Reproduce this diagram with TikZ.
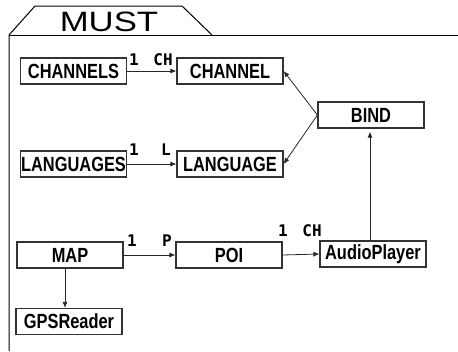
\documentclass[tikz,border=0pt]{standalone}
\usepackage{fontspec}
\setmainfont{Liberation Sans}
\newfontfamily\boxfont[FakeStretch=0.8]{Liberation Sans}
\newfontfamily\labfont{DejaVu Sans Mono}
\usetikzlibrary{arrows.meta}
\begin{document}
\begin{tikzpicture}[x=1pt,y=-1pt,
  box/.style={draw=black!80,line width=1.2pt,minimum width=106pt,minimum height=26pt,inner sep=0pt,font=\boxfont\bfseries\fontsize{20.5}{23}\selectfont},
  arr/.style={draw=black!85,line width=0.8pt,-{Latex[length=6pt,width=5pt]}},
  lab/.style={font=\labfont\bfseries\fontsize{16}{18}\selectfont,inner sep=0pt},
  frame/.style={draw=black,line width=1pt}]
\useasboundingbox (0,0) rectangle (458,351);
\fill[white] (0,0) rectangle (458,351);
% package frame
\draw[frame] (9,351) -- (9,35) -- (35,6) -- (182,6) -- (212,35);
\draw[frame] (9,35) -- (458,35);
\node[inner sep=0pt,font=\fontsize{28}{30}\selectfont] (must) at (109,22) {\scalebox{1.24}[1]{MUST}};
% boxes
\node[box] (channels) at (73.5,71) {CHANNELS};
\node[box] (channel) at (230,71) {CHANNEL};
\node[box] (bind) at (371,115) {BIND};
\node[box] (languages) at (73.5,164) {LANGUAGES};
\node[box] (language) at (230,164) {LANGUAGE};
\node[box] (map) at (70,255) {MAP};
\node[box] (poi) at (229,255) {POI};
\node[box] (ap) at (373,254) {AudioPlayer};
\node[box] (gps) at (69,321.5) {GPSReader};
% connectors
\draw[arr] (channels.east) -- (channel.west);
\draw[arr] (languages.east) -- (language.west);
\draw[arr] (map.east) -- (poi.west);
\draw[arr] (poi.east) -- (ap.west);
\draw[arr] (bind.west) -- (channel.east);
\draw[arr] (bind.west) -- (language.east);
\draw[arr,shorten >=3pt] ([xshift=-3pt]ap.north) -- ([xshift=-1pt]bind.south);
\draw[arr] ([xshift=-5pt]map.south) -- ([xshift=-4pt]gps.north);
% labels
\node[lab] (l1a) at (134,60) {1};
\node[lab] (l1b) at (163,60) {CH};
\node[lab] (l2a) at (134,150) {1};
\node[lab] (l2b) at (166,150) {L};
\node[lab] (l3a) at (132,241) {1};
\node[lab] (l3b) at (167,241) {P};
\node[lab] (l4a) at (283,231) {1};
\node[lab] (l4b) at (312,231) {CH};
\end{tikzpicture}
\end{document}
